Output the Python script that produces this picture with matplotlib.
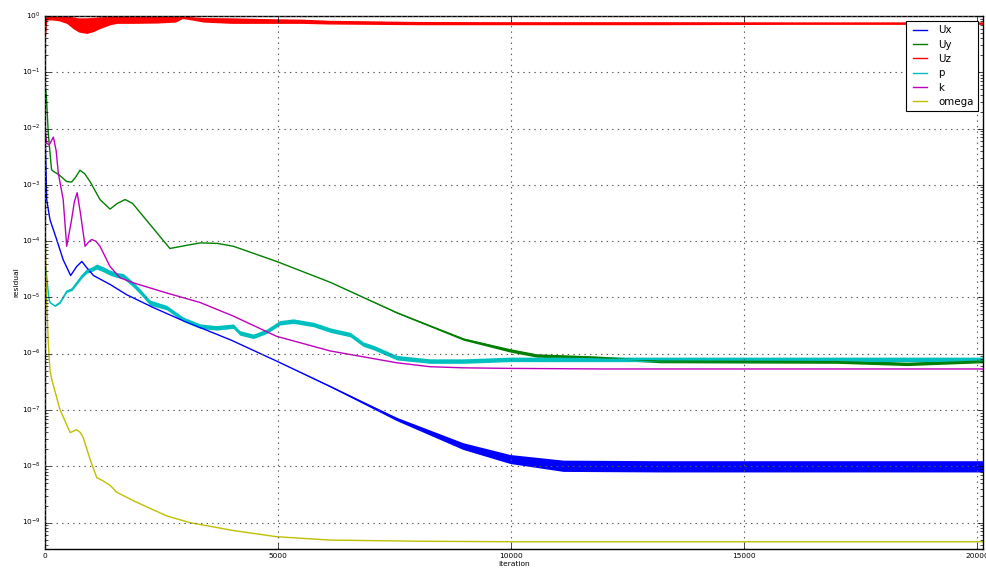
import numpy as np
import matplotlib
matplotlib.use("Agg")
import matplotlib.pyplot as plt
import matplotlib.ticker as mticker

# -- residual history (iteration, log10 residual) --

ux_iter = [0, 36, 107, 250, 390, 550, 680, 790, 895, 1040, 1400, 1750, 2300, 2900,
           4000, 4970, 6120, 7550, 8970, 9980, 11120, 13200, 20130]
ux_log = [-2.0, -3.26, -3.62, -3.97, -4.33, -4.61, -4.45, -4.36, -4.47, -4.61, -4.77,
          -4.95, -5.17, -5.39, -5.76, -6.13, -6.58, -7.16, -7.64, -7.87, -7.99, -8.0, -8.0]
ux_noise = [0, 0, 0, 0, 0, 0, 0, 0, 0, 0, 0, 0, 0, 0,
            0, 0, 0.01, 0.03, 0.06, 0.08, 0.1, 0.1, 0.1]

uy_iter = [0, 30, 70, 140, 180, 300, 465, 570, 660, 750, 850, 965, 1180, 1395, 1550,
           1720, 1880, 2040, 2400, 2680, 3000, 3330, 3700, 4040, 4970, 6120, 7550,
           8980, 9980, 10550, 11840, 13200, 17000, 18500, 20130]
uy_log = [-1.2, -1.43, -2.08, -2.73, -2.76, -2.82, -2.94, -2.95, -2.86, -2.74, -2.8,
          -2.94, -3.26, -3.43, -3.33, -3.26, -3.33, -3.49, -3.85, -4.13, -4.08, -4.03,
          -4.04, -4.09, -4.36, -4.73, -5.27, -5.74, -5.94, -6.03, -6.07, -6.13, -6.14,
          -6.18, -6.13]
uy_noise = [0] * 26 + [0.01, 0.02, 0.03, 0.03, 0.03, 0.03, 0.03, 0.03, 0.03]

uz_iter = [0, 15, 40, 150, 300, 465, 600, 720, 895, 1040, 1180, 1400, 1540, 1900,
           2400, 2800, 2950, 3150, 3400, 4000, 4750, 5500, 6100, 8000, 10000, 13200,
           16000, 20130]
uz_hi = [0.3, 0.95, 1.0, 1.0, 1.0, 1.0, 0.97, 0.93, 0.93, 0.95, 0.97, 0.98, 0.98,
         0.98, 0.98, 0.99, 1.0, 0.97, 0.94, 0.93, 0.9, 0.88, 0.84, 0.8, 0.79, 0.79,
         0.78, 0.78]
uz_lo = [0.3, 0.5, 0.85, 0.85, 0.82, 0.74, 0.6, 0.52, 0.49, 0.53, 0.6, 0.7, 0.74,
         0.74, 0.75, 0.78, 0.9, 0.85, 0.78, 0.74, 0.74, 0.74, 0.72, 0.7, 0.7, 0.7,
         0.71, 0.71]

p_iter = [0, 36, 80, 107, 215, 320, 465, 580, 680, 790, 895, 1000, 1110, 1250, 1395,
          1540, 1680, 1895, 2070, 2250, 2610, 2970, 3330, 3680, 4040, 4180, 4470,
          4760, 5040, 5330, 5760, 6120, 6550, 6830, 7050, 7550, 8260, 8980, 9980, 20130]
p_log = [-4.4, -4.62, -5.0, -5.09, -5.15, -5.09, -4.89, -4.85, -4.74, -4.62, -4.53,
         -4.5, -4.45, -4.5, -4.56, -4.6, -4.62, -4.77, -4.92, -5.09, -5.18, -5.39,
         -5.51, -5.54, -5.51, -5.63, -5.69, -5.6, -5.45, -5.42, -5.48, -5.58, -5.66,
         -5.83, -5.89, -6.07, -6.13, -6.13, -6.1, -6.1]
p_noise = [0, 0, 0.01, 0.01, 0.01, 0.015, 0.02, 0.025, 0.03, 0.035, 0.04, 0.04, 0.045,
           0.045, 0.045, 0.045, 0.045, 0.045, 0.045, 0.045, 0.04, 0.04, 0.04, 0.04,
           0.04, 0.04, 0.04, 0.04, 0.04, 0.04, 0.04, 0.04, 0.04, 0.04, 0.04, 0.04,
           0.04, 0.04, 0.04, 0.04]

k_iter = [0, 36, 90, 180, 240, 285, 390, 465, 520, 570, 630, 690, 760, 860, 930,
          1000, 1090, 1180, 1395, 1610, 1895, 2610, 3330, 4040, 4970, 6120, 7550,
          8260, 8980, 9980, 12000, 20130]
k_log = [-2.0, -2.26, -2.29, -2.15, -2.4, -2.79, -3.26, -4.09, -3.85, -3.62, -3.3,
         -3.14, -3.5, -4.09, -4.02, -3.97, -4.0, -4.09, -4.45, -4.65, -4.74, -4.92,
         -5.09, -5.33, -5.69, -5.95, -6.16, -6.23, -6.25, -6.26, -6.27, -6.27]

om_iter = [0, 15, 36, 70, 107, 143, 320, 540, 620, 680, 760, 820, 965, 1110, 1250,
           1400, 1540, 1895, 2610, 3110, 4040, 4970, 6120, 8000, 10000, 20130]
om_log = [-3.5, -4.4, -5.04, -5.8, -6.3, -6.45, -6.99, -7.40, -7.37, -7.35, -7.40,
          -7.49, -7.87, -8.20, -8.26, -8.34, -8.46, -8.61, -8.88, -9.0, -9.14, -9.25,
          -9.31, -9.33, -9.34, -9.34]

# ── figure ─────────────────────────────────────────────
plt.style.use("classic")
plt.rcParams["figure.facecolor"] = "white"
plt.rcParams["savefig.facecolor"] = "white"
plt.rcParams["mathtext.fontset"] = "dejavusans"
plt.rcParams["font.family"] = "DejaVu Sans"

fig = plt.figure(figsize=(9.87, 5.72), dpi=100)
ax = fig.add_axes([0.0456, 0.0402, 0.9504, 0.9318])


def noisy(x, logv, noise, color, label):
    v = 10.0 ** np.array(logv)
    n = 10.0 ** np.array(noise)
    ax.fill_between(x, v / n, v * n, color=color, lw=0)
    ax.plot(x, v, color=color, lw=1.0, label=label)


noisy(ux_iter, ux_log, ux_noise, "b", "Ux")
noisy(uy_iter, uy_log, uy_noise, "g", "Uy")

uz_hi = np.array(uz_hi)
uz_lo = np.array(uz_lo)
ax.fill_between(uz_iter, uz_lo, uz_hi, color="r", lw=0)
ax.plot(uz_iter, np.sqrt(uz_lo * uz_hi), color="r", lw=1.0, label="Uz")

noisy(p_iter, p_log, p_noise, "c", "p")
ax.plot(k_iter, 10.0 ** np.array(k_log), color="m", lw=1.0, label="k")
ax.plot(om_iter, 10.0 ** np.array(om_log), color="y", lw=1.0, label="omega")

ax.set_yscale("log")
ax.set_xlim(0, 20130)
ax.set_ylim(3.4e-10, 1.0)
ax.yaxis.set_major_locator(mticker.FixedLocator([10.0 ** e for e in range(-9, 1)]))
ax.yaxis.set_minor_formatter(mticker.NullFormatter())
ax.grid(True, color="0.35", linestyle=":", linewidth=0.8)
ax.tick_params(labelsize=5.3, pad=3)
ax.set_xlabel("iteration", fontsize=5.4, labelpad=1)
ax.set_ylabel("residual", fontsize=5.4, labelpad=2)

leg = ax.legend(loc="upper right", fontsize=7.4, borderaxespad=0.5,
                handlelength=2.0, labelspacing=0.42)
leg.get_frame().set_linewidth(0.8)

plt.savefig("out.png", dpi=100)
